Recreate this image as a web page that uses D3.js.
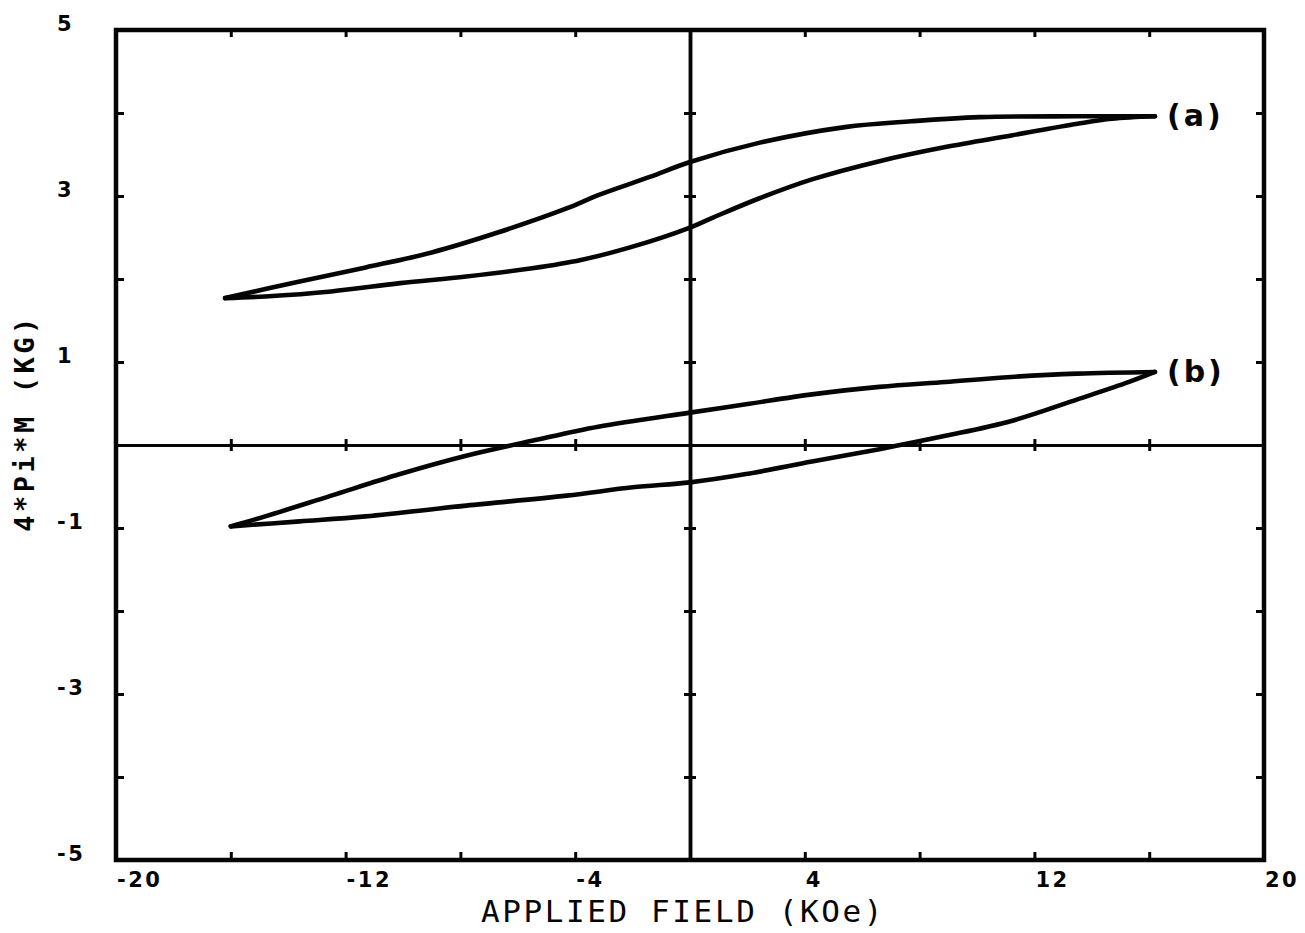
<!DOCTYPE html>
<html>
<head>
<meta charset="utf-8">
<script src="https://cdn.jsdelivr.net/npm/d3@7"></script>
<style>
  html, body { margin: 0; padding: 0; background: #fff; }
  svg { display: block; }
</style>
</head>
<body>
<svg id="chart" width="1305" height="933"></svg>
<script>
// Hysteresis loops: magnetisation 4*Pi*M (kG) against applied field (kOe)

// Loop (a): descending branch (field swept from +H to -H)
const loopA_downField = [16.2, 13.5, 10.1, 7.7, 5.4, 2.4, 0, -1.4, -3.2, -4.3, -6.7, -9.0, -11.3, -13.6, -16.2];
const loopA_downMag   = [3.96, 3.96, 3.95, 3.90, 3.83, 3.64, 3.41, 3.23, 3.01, 2.85, 2.56, 2.32, 2.14, 1.97, 1.77];
// Loop (a): ascending branch (field swept from -H to +H)
const loopA_upField = [-16.2, -14.8, -12.5, -10.1, -7.8, -5.5, -3.8, -2.0, 0, 0.8, 2.4, 4.25, 6.6, 8.9, 11.2, 13.5, 14.7, 16.2];
const loopA_upMag   = [1.77, 1.79, 1.85, 1.95, 2.03, 2.13, 2.23, 2.39, 2.62, 2.74, 2.97, 3.20, 3.42, 3.59, 3.73, 3.87, 3.93, 3.96];

// Loop (b): descending branch
const loopB_downField = [16.2, 13.5, 11.2, 8.9, 6.6, 4.25, 1.95, 0, -3.2, -5.5, -7.8, -10.1, -12.5, -14.8, -16.0];
const loopB_downMag   = [0.88, 0.86, 0.82, 0.76, 0.70, 0.61, 0.49, 0.39, 0.22, 0.05, -0.13, -0.35, -0.61, -0.86, -0.98];
// Loop (b): ascending branch
const loopB_upField = [-16.0, -13.6, -11.3, -7.8, -4.3, -2.0, 0, 1.95, 4.25, 6.6, 8.9, 11.2, 13.5, 15.3, 16.2];
const loopB_upMag   = [-0.98, -0.92, -0.86, -0.73, -0.61, -0.51, -0.45, -0.35, -0.20, -0.05, 0.11, 0.29, 0.55, 0.76, 0.88];

// Curve names, placed at the +H tip of each loop
const curveNames = ["(a)", "(b)"];

// Axis ticks and labels
const xTicks = [-20, -16, -12, -8, -4, 0, 4, 8, 12, 16, 20];
const xTickLabels = [-20, -12, -4, 4, 12, 20];
const yTicks = [-5, -4, -3, -2, -1, 0, 1, 2, 3, 4, 5];
const yTickLabels = [5, 3, 1, -1, -3, -5];
const xTitle = "APPLIED FIELD (KOe)";
const yTitle = "4*Pi*M (KG)";

const svg = d3.select("#chart");
svg.append("rect").attr("width", 1305).attr("height", 933).attr("fill", "#fff");

const x = d3.scaleLinear().domain([-20, 20]).range([116, 1264]);
const y = d3.scaleLinear().domain([-5, 5]).range([860, 30]);

const ink = "#050505";

// Frame ticks (pointing inward)
function frameAxis(axis, transform) {
  const g = svg.append("g").attr("transform", transform).call(axis);
  g.select(".domain").remove();
  g.selectAll(".tick line").attr("stroke", ink).attr("stroke-width", 3);
  g.selectAll(".tick text").remove();
  return g;
}
frameAxis(d3.axisBottom(x).tickValues(xTicks).tickSizeInner(-8).tickSizeOuter(0).tickFormat(""), `translate(0,${y(-5)})`);
frameAxis(d3.axisTop(x).tickValues(xTicks).tickSizeInner(-7).tickSizeOuter(0).tickFormat(""), `translate(0,${y(5)})`);
frameAxis(d3.axisLeft(y).tickValues(yTicks).tickSizeInner(-8).tickSizeOuter(0).tickFormat(""), `translate(${x(-20)},0)`);
frameAxis(d3.axisRight(y).tickValues(yTicks).tickSizeInner(-8).tickSizeOuter(0).tickFormat(""), `translate(${x(20)},0)`);

// Zero axes through the origin, with cross ticks on both sides
const innerX = xTicks.filter(v => v > -20 && v < 20 && v !== 0);
const innerY = yTicks.filter(v => v > -5 && v < 5 && v !== 0);
function zeroAxis(axis, transform, width) {
  const g = svg.append("g").attr("transform", transform).call(axis);
  g.select(".domain").attr("stroke", ink).attr("stroke-width", width);
  g.selectAll(".tick line").attr("stroke", ink).attr("stroke-width", 3);
  g.selectAll(".tick text").remove();
}
zeroAxis(d3.axisTop(x).tickValues(innerX).tickSizeInner(6).tickSizeOuter(0).tickFormat(""), `translate(0,${y(0)})`, 3);
zeroAxis(d3.axisBottom(x).tickValues(innerX).tickSizeInner(6).tickSizeOuter(0).tickFormat(""), `translate(0,${y(0)})`, 3);
zeroAxis(d3.axisLeft(y).tickValues(innerY).tickSizeInner(6).tickSizeOuter(0).tickFormat(""), `translate(${x(0)},0)`, 3.5);
zeroAxis(d3.axisRight(y).tickValues(innerY).tickSizeInner(6).tickSizeOuter(0).tickFormat(""), `translate(${x(0)},0)`, 3.5);

// Plot frame
svg.append("rect")
  .attr("x", x(-20)).attr("y", y(5))
  .attr("width", x(20) - x(-20)).attr("height", y(-5) - y(5))
  .attr("fill", "none").attr("stroke", ink).attr("stroke-width", 4.5);

// Hysteresis branches
const line = d3.line()
  .x(d => x(d[0]))
  .y(d => y(d[1]))
  .curve(d3.curveCatmullRom.alpha(0.5));

const branches = [
  d3.zip(loopA_downField, loopA_downMag),
  d3.zip(loopA_upField, loopA_upMag),
  d3.zip(loopB_downField, loopB_downMag),
  d3.zip(loopB_upField, loopB_upMag)
];
svg.append("g").selectAll("path")
  .data(branches)
  .join("path")
  .attr("d", line)
  .attr("fill", "none")
  .attr("stroke", ink)
  .attr("stroke-width", 4.6)
  .attr("stroke-linejoin", "round")
  .attr("stroke-linecap", "round");

// Curve names at the loop tips
const tips = [
  [loopA_downField[0], loopA_downMag[0]],
  [loopB_downField[0], loopB_downMag[0]]
];
svg.append("g").selectAll("text")
  .data(curveNames)
  .join("text")
  .attr("x", (d, i) => x(tips[i][0]) + 12)
  .attr("y", (d, i) => y(tips[i][1]) + 10)
  .attr("font-family", "'DejaVu Sans', sans-serif")
  .attr("font-weight", "bold")
  .attr("font-size", 30)
  .attr("letter-spacing", 3)
  .attr("fill", ink)
  .text(d => d);

// Tick labels
const tickFont = "'DejaVu Sans', sans-serif";
svg.append("g").selectAll("text")
  .data(xTickLabels)
  .join("text")
  .attr("x", d => x(d) + 1)
  .attr("y", 887)
  .attr("font-family", tickFont)
  .attr("font-weight", "bold")
  .attr("font-size", 21)
  .attr("letter-spacing", 2.5)
  .attr("fill", ink)
  .text(d => String(d));

svg.append("g").selectAll("text")
  .data(yTickLabels)
  .join("text")
  .attr("x", 57)
  .attr("y", d => y(d) + 1)
  .attr("font-family", tickFont)
  .attr("font-weight", "bold")
  .attr("font-size", 21)
  .attr("letter-spacing", 2.5)
  .attr("fill", ink)
  .text(d => String(d));

// Axis titles
svg.append("text")
  .attr("x", 683)
  .attr("y", 922)
  .attr("text-anchor", "middle")
  .attr("font-family", "'DejaVu Sans Mono', monospace")
  .attr("font-size", 31)
  .attr("letter-spacing", 2.6)
  .attr("fill", ink)
  .text(xTitle);

svg.append("text")
  .attr("transform", "translate(34,423) rotate(-90)")
  .attr("text-anchor", "middle")
  .attr("font-family", "'DejaVu Sans Mono', monospace")
  .attr("font-weight", "bold")
  .attr("font-size", 27)
  .attr("letter-spacing", 3.5)
  .attr("fill", ink)
  .text(yTitle);
</script>
</body>
</html>
